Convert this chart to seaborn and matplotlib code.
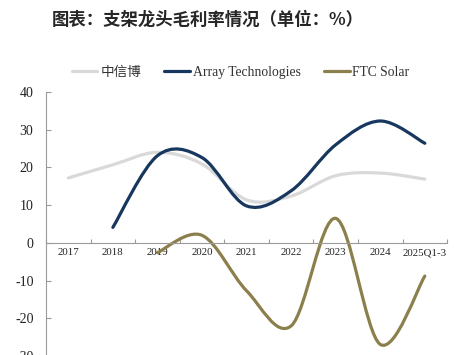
import matplotlib
matplotlib.use("Agg")
import matplotlib.pyplot as plt
import numpy as np
import seaborn as sns
from matplotlib.path import Path
from matplotlib.patches import PathPatch
from matplotlib.lines import Line2D

years = ["2017", "2018", "2019", "2020", "2021", "2022", "2023", "2024", "2025Q1-3"]
zxb = [17.2, 20.7, 24.0, 20.9, 11.4, 12.4, 17.8, 18.5, 16.9]
array_tech = [None, 4.1, 23.1, 22.6, 9.8, 13.8, 26.0, 32.3, 26.4]
ftc_solar = [None, None, -2.6, 2.0, -12.7, -22.0, 6.5, -26.9, -8.8]

names = ["中信博", "Array Technologies", "FTC Solar"]
colors = ["#d9d9d9", "#17375e", "#8b7f4c"]


def smooth_path(xs, ys):
    # excel-style smoothed line: cubic bezier through the points
    pts = np.column_stack([xs, ys])
    n = len(pts)
    verts = [pts[0]]
    codes = [Path.MOVETO]
    for i in range(n - 1):
        p0 = pts[i - 1] if i > 0 else pts[i]
        p1 = pts[i]
        p2 = pts[i + 1]
        p3 = pts[i + 2] if i + 2 < n else pts[i + 1]
        c1 = p1 + (p2 - p0) / 6
        c2 = p2 - (p3 - p1) / 6
        verts += [c1, c2, p2]
        codes += [Path.CURVE4] * 3
    return Path(verts, codes)


sns.set_theme(style="white")
plt.rcParams["font.family"] = ["Liberation Serif", "Noto Sans CJK SC"]
plt.rcParams["axes.unicode_minus"] = False

fig = plt.figure(figsize=(4.6, 3.55), dpi=100)
ax = fig.add_axes([0.1, -0.003, 0.872, 0.744])

for series, name, color in zip([zxb, array_tech, ftc_solar], names, colors):
    xs = [i for i, v in enumerate(series) if v is not None]
    ys = [v for v in series if v is not None]
    patch = PathPatch(smooth_path(xs, ys), facecolor="none", edgecolor=color,
                      lw=2.3, capstyle="round", joinstyle="round")
    ax.add_patch(patch)

ax.set_xlim(-0.5, len(years) - 0.5)
ax.set_ylim(-30, 40)
ax.set_yticks(range(-30, 41, 10))
ax.set_xticks(range(len(years)))
ax.set_xticklabels(years)
ax.set_xticks(np.arange(-0.5, len(years), 1), minor=True)

for s in ["top", "right"]:
    ax.spines[s].set_visible(False)
ax.spines["bottom"].set_position(("data", 0))
ax.spines["left"].set_color("#9a9a9a")
ax.spines["bottom"].set_color("#9a9a9a")
ax.spines["left"].set_linewidth(0.8)
ax.spines["bottom"].set_linewidth(0.8)

ax.tick_params(axis="y", direction="in", length=3.5, width=0.8, color="#9a9a9a",
               left=True, pad=9, labelsize=10, labelcolor="#222222")
ax.tick_params(axis="x", which="major", length=0, pad=4, labelsize=7.8,
               labelcolor="#222222")
ax.tick_params(axis="x", which="minor", direction="in", length=3, width=0.8,
               color="#9a9a9a", bottom=True)

handles = [Line2D([], [], color=c, lw=2.3) for c in colors]
fig.legend(handles, names, loc="center", bbox_to_anchor=(0.523, 0.797), ncol=3,
           frameon=False, handlelength=1.9, handletextpad=0.2,
           columnspacing=1.7, labelcolor="#333333",
           prop={"family": ["Liberation Serif", "Noto Sans CJK SC"], "size": 9.8})

fig.text(0.113, 0.944, "图表：支架龙头毛利率情况（单位：%）", fontsize=12.5,
         fontweight="bold", family="Noto Sans CJK SC", va="center", ha="left")

fig.savefig("out.png", dpi=100)
